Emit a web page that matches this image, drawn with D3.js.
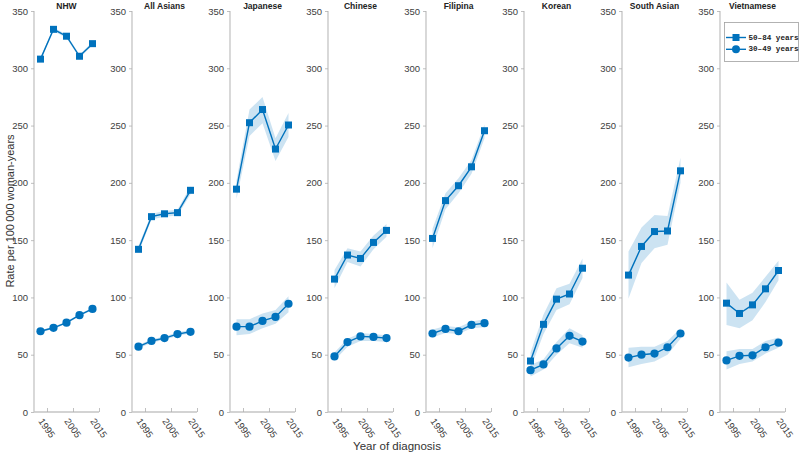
<!DOCTYPE html>
<html><head><meta charset="utf-8">
<script src="https://cdn.jsdelivr.net/npm/d3@7"></script>
<style>body{margin:0;background:#fff}svg{display:block}</style>
</head><body>
<svg id="c" width="800" height="455"></svg>
<script>
const groups = ["NHW","All Asians","Japanese","Chinese","Filipina","Korean","South Asian","Vietnamese"];
const years = [1992.5,1997.5,2002.5,2007.5,2012.5];
const xTicks = [1995,2005,2015];
const yTicks = [0,50,100,150,200,250,300,350];
const seriesNames = ["50\u201384 years","30\u201349 years"];

// 50-84 years: rate, lower, upper
const old = [
  [308,334,328,310.5,321.5],
  [142,170.5,173,174,193.5],
  [194.5,252.5,264,229.5,250.5],
  [116,137,134,148,158.5],
  [151.5,184.5,197.5,214,245.5],
  [44.5,76.5,98.5,103,125.5],
  [119.5,144.5,157.5,158,210.5],
  [95,86,93.5,107.5,123.5]
];
const oldLo = [
  [306.5,332.5,326.5,309,320],
  [139,168,170.5,171.5,190],
  [186,241,252,219,240],
  [108,131,127,142,153],
  [143,177,191,208,239],
  [38,68,89,94,117],
  [99,130,143,146,200],
  [76,73,80,96,115]
];
const oldHi = [
  [309.5,335.5,329.5,312,323],
  [145,173,175.5,176.5,197],
  [202,264,275,239,261],
  [124,143,140,154,164],
  [160,191,204,220,251],
  [52,85,108,112,134],
  [140,161,172,171,222],
  [113,98,104,118,132]
];
// 30-49 years
const young = [
  [70.5,73.5,78,84.5,90],
  [57,62,64.5,68,70],
  [74.5,74.5,79.5,83,94.5],
  [48.5,61,66,65.5,64.5],
  [68.5,72.5,70.5,76,77.5],
  [36.5,41.5,55.5,66.5,61.5],
  [47.5,50,51,56.5,68.5],
  [45,49,49.5,56.5,60.5]
];
const youngLo = [
  [69.5,72.5,77,83.5,89],
  [55.5,60.5,63,66.5,68.5],
  [67,68,73,77,87],
  [45,57,62,62,61],
  [65,69,68,73,74],
  [31,37,50,60,56],
  [39,42,44,50,64],
  [37,42,44,51,56]
];
const youngHi = [
  [71.5,74.5,79,85.5,91],
  [58.5,63.5,66,69.5,71.5],
  [81,81,86,89,101],
  [52,64,69,68,67],
  [72,75,74,79,81],
  [41,46,61,73,67],
  [56,57,57,62,73],
  [53,55,55,62,65]
];

const blue = "#0072BD";
const svg = d3.select("#c");
const font = "'Liberation Sans', Arial, sans-serif";
const panelW = 65, step = 98, left0 = 34;
const y = d3.scaleLinear().domain([0,350]).range([412,11]);

groups.forEach((g,i) => {
  const ox = left0 + i*step;
  const x = d3.scaleLinear().domain([1990,2015]).range([ox, ox+panelW]);
  const p = svg.append("g");

  // bands
  const area = d3.area().x((d,k)=>x(years[k])).y0(d=>y(d[0])).y1(d=>y(d[1]));
  [[oldLo[i],oldHi[i]],[youngLo[i],youngHi[i]]].forEach(([lo,hi]) => {
    p.append("path").datum(lo.map((v,k)=>[v,hi[k]]))
      .attr("d", area).attr("fill", blue).attr("fill-opacity", 0.2).attr("stroke","none");
  });

  // axes
  const ya = p.append("g").attr("transform",`translate(${ox},0)`)
    .call(d3.axisLeft(y).tickValues(yTicks).tickSize(3).tickPadding(3));
  const xa = p.append("g").attr("transform",`translate(0,412)`)
    .call(d3.axisBottom(x).tickValues(xTicks).tickSize(-4).tickFormat(""));
  [ya,xa].forEach(a=>{
    a.select(".domain").attr("stroke","#c4c4c4").attr("stroke-width",1.3);
    a.selectAll(".tick line").attr("stroke","#b0b0b0").attr("stroke-width",0.8);
  });
  ya.select(".domain").attr("d",`M-0,412V11`);
  xa.select(".domain").attr("d",`M${ox},0H${ox+panelW}`);
  ya.selectAll(".tick text").attr("font-family",font).attr("font-size","9.5px").attr("fill","#404040");

  xTicks.forEach(t => {
    p.append("text").attr("transform",`translate(${x(t)},428) rotate(55)`)
      .attr("text-anchor","middle").attr("dominant-baseline","central")
      .attr("font-family",font).attr("font-size","9.5px").attr("fill","#404040").text(t);
  });

  // title
  p.append("text").attr("x", ox+panelW/2).attr("y", 9).attr("text-anchor","middle")
    .attr("font-family",font).attr("font-size","8.5px").attr("font-weight","bold").attr("fill","#222").text(g);

  // lines + markers
  const line = d3.line().x((d,k)=>x(years[k])).y(d=>y(d));
  p.append("path").datum(old[i]).attr("d",line).attr("fill","none").attr("stroke",blue).attr("stroke-width",1.4);
  p.append("path").datum(young[i]).attr("d",line).attr("fill","none").attr("stroke",blue).attr("stroke-width",1.4);
  p.selectAll(".sq").data(old[i]).join("rect")
    .attr("x",(d,k)=>x(years[k])-3.5).attr("y",d=>y(d)-3.5).attr("width",7).attr("height",7).attr("fill",blue);
  p.selectAll(".ci").data(young[i]).join("circle")
    .attr("cx",(d,k)=>x(years[k])).attr("cy",d=>y(d)).attr("r",4.1).attr("fill",blue);
});

// axis labels
svg.append("text").attr("transform","translate(10,211) rotate(-90)").attr("text-anchor","middle")
  .attr("dominant-baseline","central").attr("font-family",font).attr("font-size","11px").attr("fill","#333")
  .text("Rate per 100\u2009000 woman-years");
svg.append("text").attr("x",397).attr("y",446).attr("text-anchor","middle").attr("dominant-baseline","central")
  .attr("font-family",font).attr("font-size","11.5px").attr("fill","#333").text("Year of diagnosis");

// legend
const lg = svg.append("g");
lg.append("rect").attr("x",724.5).attr("y",22.5).attr("width",74).attr("height",39)
  .attr("fill","#fff").attr("stroke","#a0a0a0").attr("stroke-width",0.8);
seriesNames.forEach((s,k)=>{
  const yy = 37.5 + k*11.8;
  lg.append("line").attr("x1",726).attr("x2",746).attr("y1",yy).attr("y2",yy).attr("stroke",blue).attr("stroke-width",1.4);
  if (k===0) lg.append("rect").attr("x",732.5).attr("y",yy-3.5).attr("width",7).attr("height",7).attr("fill",blue);
  else lg.append("circle").attr("cx",736).attr("cy",yy).attr("r",4).attr("fill",blue);
  lg.append("text").attr("x",748.5).attr("y",yy).attr("dominant-baseline","central")
    .attr("font-family","'Liberation Mono','DejaVu Sans Mono',monospace").attr("font-size","7.6px")
    .attr("font-weight","bold").attr("fill","#222").text(s);
});
</script>
</body></html>
